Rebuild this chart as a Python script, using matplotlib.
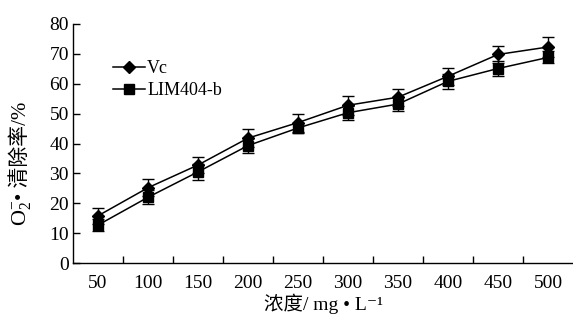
import matplotlib
matplotlib.use("Agg")
import matplotlib.pyplot as plt
import numpy as np

plt.rcParams['font.family'] = ['Liberation Serif', 'Noto Sans CJK SC', 'DejaVu Sans']
plt.rcParams['mathtext.fontset'] = 'custom'
plt.rcParams['mathtext.rm'] = 'Liberation Serif'
plt.rcParams['mathtext.it'] = 'Liberation Serif'

categories = ['50', '100', '150', '200', '250', '300', '350', '400', '450', '500']
vc = [15.8, 25.2, 32.8, 41.8, 47.0, 52.8, 55.5, 62.5, 69.8, 72.3]
vc_err = [2.7, 2.8, 2.8, 2.9, 3.0, 3.2, 2.8, 2.8, 3.0, 3.3]
lim = [12.7, 22.0, 30.5, 39.3, 45.2, 50.3, 53.2, 60.8, 65.1, 68.8]
lim_err = [1.9, 2.3, 2.7, 2.4, 1.8, 2.3, 2.3, 2.6, 2.5, 2.0]
yticks = [0, 10, 20, 30, 40, 50, 60, 70, 80]

fig = plt.figure(figsize=(5.73, 3.2), dpi=100)
ax = fig.add_axes([73/573, 57/320, 500/573, 239/320])

x = np.arange(len(categories))
c1 = ax.errorbar(x, vc, yerr=vc_err, color='black', marker='D', markersize=6,
                 lw=1.1, capsize=4, elinewidth=1.0, capthick=1.0, label='Vc')
c2 = ax.errorbar(x, lim, yerr=lim_err, color='black', marker='s', markersize=6.5,
                 lw=1.1, capsize=4, elinewidth=1.0, capthick=1.0, label='LIM404-b')

ax.set_xlim(-0.5, len(categories) - 0.5)
ax.set_ylim(0, 80)
ax.set_yticks(yticks)
ax.set_yticklabels([str(v) for v in yticks], fontsize=14)
ax.set_xticks(x)
ax.set_xticklabels(categories, fontsize=14)
ax.set_xticks(x[:-1] + 0.5, minor=True)
ax.tick_params(axis='x', which='major', length=0, pad=9)
ax.tick_params(axis='x', which='minor', length=5, direction='in', width=1)
ax.tick_params(axis='y', length=5, direction='in', width=1, pad=3)
ax.spines['top'].set_visible(False)
ax.spines['right'].set_visible(False)
for s in ['left', 'bottom']:
    ax.spines[s].set_linewidth(1)

ylab = ax.set_ylabel('• 清除率/%', fontsize=15)
ax.yaxis.set_label_coords(-0.084, 0.47)
fig.canvas.draw()
ax.annotate(r'$\mathrm{O}_{2}^{-}$', xy=(0.5, 0.0), xycoords=ylab,
            ha='center', va='top', rotation=90, fontsize=16)

ax.set_xlabel('浓度/ mg • L⁻¹', fontsize=14, labelpad=1)

leg = ax.legend(handles=[c1[0], c2[0]], labels=['Vc', 'LIM404-b'],
                loc='upper left', bbox_to_anchor=(0.065, 0.88), frameon=False,
                fontsize=13, handlelength=1.8, handletextpad=0.1, labelspacing=0.3,
                borderaxespad=0)

fig.savefig('out.png', dpi=100)
